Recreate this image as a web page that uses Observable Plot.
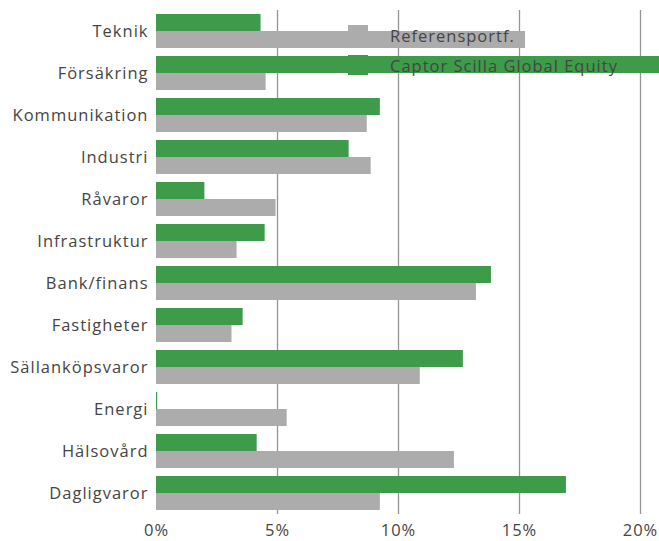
<!DOCTYPE html>
<html>
<head>
<meta charset="utf-8">
<script src="https://cdn.jsdelivr.net/npm/d3@7"></script>
<script src="https://cdn.jsdelivr.net/npm/@observablehq/plot@0.6"></script>
<style>
  html, body { margin: 0; padding: 0; background: #fff; }
  #wrap { position: relative; width: 659px; height: 541px; font-family: "Open Sans", sans-serif; }
  #legend { position: absolute; left: 348px; top: 20px; font-size: 16.5px; letter-spacing: 1px; color: #454545; }
  #legend .item { display: flex; align-items: center; height: 30px; }
  #legend .sw { width: 20px; height: 20px; margin-right: 22px; }
  #chart svg text { letter-spacing: 1px; }
</style>
</head>
<body>
<div id="wrap"><div id="chart"></div><div id="legend"></div></div>
<script>
const categories = ["Teknik", "Försäkring", "Kommunikation", "Industri", "Råvaror", "Infrastruktur",
  "Bank/finans", "Fastigheter", "Sällanköpsvaror", "Energi", "Hälsovård", "Dagligvaror"];
const fundName = "Captor Scilla Global Equity";
const refName = "Referensportf.";
const fundValues = [4.32, 21.5, 9.25, 7.96, 2.0, 4.49, 13.84, 3.58, 12.68, 0.05, 4.16, 16.94];
const refValues = [15.25, 4.53, 8.71, 8.87, 4.94, 3.33, 13.22, 3.12, 10.9, 5.4, 12.31, 9.25];
const xTicks = [0, 5, 10, 15, 20];
const gridTicks = [5, 10, 15, 20];
const colors = {fund: "#3e9b4a", ref: "#acacac"};

const fundData = categories.map((c, i) => ({category: c, value: fundValues[i]}));
const refData = categories.map((c, i) => ({category: c, value: refValues[i]}));

const chart = Plot.plot({
  width: 659,
  height: 541,
  marginLeft: 156,
  marginRight: 19,
  marginTop: 10,
  marginBottom: 27,
  style: {fontFamily: "Open Sans, sans-serif", fontSize: "16.5px", color: "#454545", background: "transparent", overflow: "visible"},
  x: {domain: [0, 20], ticks: xTicks, tickFormat: d => d + "%", tickSize: 0, tickPadding: 10, label: null},
  y: {domain: categories, paddingInner: 0.19, paddingOuter: 0.095, tickSize: 0, tickPadding: 8, label: null},
  marks: [
    Plot.ruleX(gridTicks, {stroke: "#959595", strokeWidth: 1.3}),
    Plot.barX(fundData, {y: "category", x: "value", fill: colors.fund, insetBottom: 17}),
    Plot.barX(refData, {y: "category", x: "value", fill: colors.ref, insetTop: 17})
  ]
});
document.getElementById("chart").appendChild(chart);

const legend = document.getElementById("legend");
[[refName, colors.ref], [fundName, colors.fund]].forEach(([name, col]) => {
  const item = document.createElement("div");
  item.className = "item";
  const sw = document.createElement("div");
  sw.className = "sw";
  sw.style.background = col;
  item.appendChild(sw);
  const t = document.createElement("span");
  t.textContent = name;
  item.appendChild(t);
  legend.appendChild(item);
});
</script>
</body>
</html>
